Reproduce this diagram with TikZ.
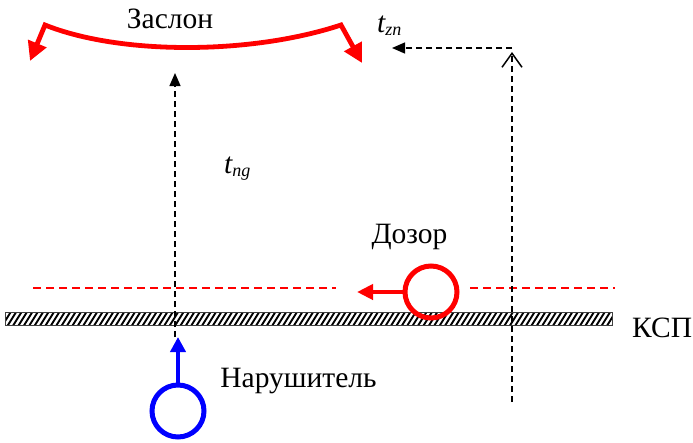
\documentclass[tikz,border=0pt]{standalone}
\usepackage{fontspec}
\newfontfamily\lblfont{Liberation Serif}
\usetikzlibrary{arrows.meta}
\begin{document}
\begin{tikzpicture}[x=1pt,y=-1pt,
  lbl/.style={font=\lblfont\fontsize{29.5}{33}\selectfont, inner sep=0pt, anchor=base},
  bdash/.style={draw=black, line width=1.3pt, dash pattern=on 6pt off 4pt},
  rdash/.style={draw=red, line width=1.4pt, dash pattern=on 8pt off 5pt},
  ftip/.style={-{Triangle[length=13pt,width=11pt]}},
  redbody/.style={draw=red, line width=4.5pt, -{Triangle[length=16pt,width=15pt]}},
  person/.style={circle, draw, line width=5pt, minimum size=52pt, inner sep=0pt}]
\useasboundingbox (0,0) rectangle (693,442);
% boundary bar
\node[minimum width=606pt, minimum height=13pt, inner sep=0pt] (ksp) at (309,319) {};
\begin{scope}
  \clip (ksp.south west) rectangle (ksp.north east);
  \foreach \i in {0,...,115} {
    \draw[line width=1.9pt, black] ({-4+\i*5.4},327) -- ++(10,-16);
  }
\end{scope}
\draw[draw=black!75, line width=1.3pt] (ksp.south west) rectangle (ksp.north east);
\node[lbl, anchor=base west] (ksplbl) at (632,337) {КСП};
% red dashed patrol line
\coordinate (rd1) at (33,288);
\coordinate (rd2) at (336,288);
\coordinate (rd3) at (470,288);
\coordinate (rd4) at (615,288);
\draw[rdash] (rd1) -- (rd2);
\draw[rdash] (rd3) -- (rd4);
% Dozor
\node[person, draw=red] (dozor) at (431,292) {};
\coordinate (dozortip) at (357,292);
\draw[redbody] (dozor.west) -- (dozortip);
\node[lbl] (dozorlbl) at (409.5,243) {Дозор};
% Narushitel
\node[person, draw=blue] (nar) at (178,411) {};
\coordinate (nartip) at (178,337);
\draw[draw=blue, line width=4.5pt, -{Triangle[length=15pt,width=15pt]}] (nar.north) -- (nartip);
\node[lbl] (narlbl) at (298.5,387) {Нарушитель};
% left dashed time line
\coordinate (lb) at (175,337);
\coordinate (lt) at (175,73);
\draw[bdash, ftip] (lb) -- (lt);
\node[lbl, anchor=base west] (tng) at (224,173) {\itshape t\raisebox{-3pt}{\fontsize{18}{20}\selectfont ng}};
% right dashed time line
\coordinate (rb) at (512,402);
\coordinate (rt) at (512,52);
\coordinate (rc) at (512,48);
\coordinate (rl) at (392,48);
\draw[bdash, -{Straight Barb[length=14pt,width=20pt,line width=1.5pt]}] (rb) -- (rt);
\draw[bdash, ftip] (rc) -- (rl);
\node[lbl, anchor=base west] (tzn) at (377,32) {\itshape t\raisebox{-3pt}{\fontsize{18}{20}\selectfont zn}};
% Zaslon
\coordinate (zl) at (45,25);
\coordinate (zr) at (341,25);
\coordinate (zlt) at (30,61);
\coordinate (zrt) at (362,63);
\draw[draw=red, line width=4.8pt, {Triangle[length=19pt,width=19pt]}-{Triangle[length=19pt,width=19pt]}, line join=miter]
  (zlt) -- (zl) .. controls (120,55) and (250,55) .. (zr) -- (zrt);
\node[lbl] (zaslon) at (170,28) {Заслон};
\end{tikzpicture}
\end{document}
